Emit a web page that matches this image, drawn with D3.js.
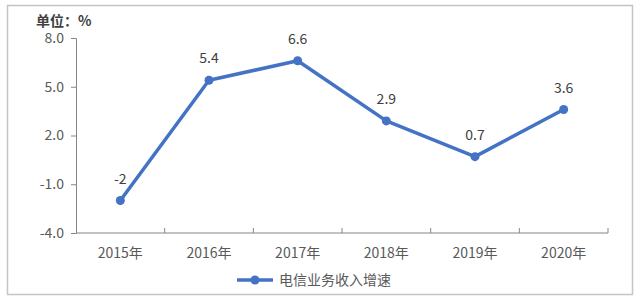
<html>
<head>
<meta charset="utf-8">
<script src="https://cdn.jsdelivr.net/npm/d3@7"></script>
<style>
body { margin: 0; background: #fff; }
text { font-family: "Noto Sans CJK SC", "Noto Sans", sans-serif; }
</style>
</head>
<body>
<div id="canvas"></div>
<script>

var years = ["2015年", "2016年", "2017年", "2018年", "2019年", "2020年"];
var growth = [-2, 5.4, 6.6, 2.9, 0.7, 3.6];
var growthLabels = ["-2", "5.4", "6.6", "2.9", "0.7", "3.6"];
var yTicks = [-4, -1, 2, 5, 8];
var seriesName = "电信业务收入增速";
var unitText = "单位：%";

var width = 640;
var height = 301;
var plotLeft = 76, plotRight = 608, plotTop = 38, plotBottom = 233;
var blue = "#4472c4";
var grey = "#595959";

var svg = d3.select("#canvas").append("svg").attr("width", width).attr("height", height);

svg.append("rect")
    .attr("x", 7.5).attr("y", 5.5)
    .attr("width", 625).attr("height", 289)
    .attr("fill", "#fff")
    .attr("stroke", "#c4c4c4")
    .attr("stroke-width", 1.5);

var x = d3.scaleBand().domain(years).range([plotLeft, plotRight]);
var y = d3.scaleLinear().domain([-4, 8]).range([plotBottom, plotTop]);

// y axis
var yAxis = svg.append("g")
    .attr("transform", "translate(" + plotLeft + ",0)")
    .call(d3.axisLeft(y).tickValues(yTicks).tickSize(5).tickPadding(7)
        .tickFormat(function(d) { return d.toFixed(1); }));
yAxis.select(".domain").attr("stroke", "#868686");
yAxis.selectAll(".tick line").attr("stroke", "#868686");
yAxis.selectAll("text").attr("fill", grey).attr("font-size", 14)
    .attr("font-family", "'Noto Sans', sans-serif");

// x axis
var xAxis = svg.append("g")
    .attr("transform", "translate(0," + plotBottom + ")");
xAxis.append("line")
    .attr("x1", plotLeft).attr("x2", plotRight)
    .attr("y1", 0).attr("y2", 0)
    .attr("stroke", "#868686");
xAxis.selectAll(".sep").data(years).enter().append("line")
    .attr("x1", function(d) { return x(d) + x.bandwidth(); })
    .attr("x2", function(d) { return x(d) + x.bandwidth(); })
    .attr("y1", 0).attr("y2", -5)
    .attr("stroke", "#868686");
xAxis.selectAll(".lab").data(years).enter().append("text")
    .attr("x", function(d) { return x(d) + x.bandwidth() / 2; })
    .attr("y", 25)
    .attr("text-anchor", "middle")
    .attr("fill", grey)
    .attr("font-size", 14)
    .text(function(d) { return d; });

// unit label
svg.append("text")
    .attr("x", 36).attr("y", 26)
    .attr("fill", "#404040")
    .attr("font-size", 14)
    .attr("font-weight", "bold")
    .text(unitText);

// line
var line = d3.line()
    .x(function(d, i) { return x(years[i]) + x.bandwidth() / 2; })
    .y(function(d) { return y(d); });

svg.append("path")
    .datum(growth)
    .attr("d", line)
    .attr("fill", "none")
    .attr("stroke", blue)
    .attr("stroke-width", 3.5)
    .attr("stroke-linejoin", "round");

svg.selectAll(".pt").data(growth).enter().append("circle")
    .attr("cx", function(d, i) { return x(years[i]) + x.bandwidth() / 2; })
    .attr("cy", function(d) { return y(d); })
    .attr("r", 4.5)
    .attr("fill", blue);

svg.selectAll(".val").data(growth).enter().append("text")
    .attr("x", function(d, i) { return x(years[i]) + x.bandwidth() / 2; })
    .attr("y", function(d) { return y(d) - 17; })
    .attr("text-anchor", "middle")
    .attr("fill", "#404040")
    .attr("font-size", 14)
    .attr("font-family", "'Noto Sans', sans-serif")
    .text(function(d, i) { return growthLabels[i]; });

// legend
var lg = svg.append("g").attr("transform", "translate(237,280)");
lg.append("line").attr("x1", 0).attr("x2", 36).attr("y1", 0).attr("y2", 0)
    .attr("stroke", blue).attr("stroke-width", 3.5);
lg.append("circle").attr("cx", 18).attr("cy", 0).attr("r", 4.5).attr("fill", blue);
lg.append("text").attr("x", 42).attr("y", 5)
    .attr("fill", grey).attr("font-size", 14)
    .text(seriesName);

</script>
</body>
</html>
